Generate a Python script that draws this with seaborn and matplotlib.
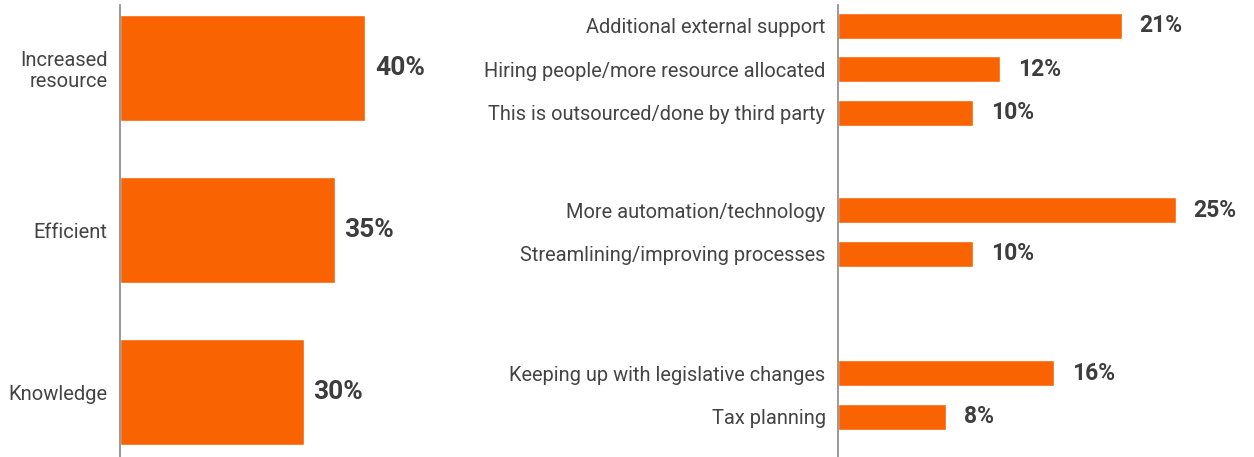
import matplotlib
matplotlib.use("Agg")
import matplotlib.pyplot as plt
import seaborn as sns
import pandas as pd
import numpy as np

# ---- data ----
left_categories = ["Increased\nresource", "Efficient", "Knowledge"]
left_values = [40, 35, 30]

right_groups = [0, 0, 0, 1, 1, 2, 2]
right_categories = [
    "Additional external support",
    "Hiring people/more resource allocated",
    "This is outsourced/done by third party",
    "More automation/technology",
    "Streamlining/improving processes",
    "Keeping up with legislative changes",
    "Tax planning",
]
right_values = [21, 12, 10, 25, 10, 16, 8]

ORANGE = "#F96302"
TEXT = "#444444"
VALUE_TEXT = "#3d3d3d"

sns.set_style("white")
plt.rcParams["font.family"] = ["Roboto", "DejaVu Sans"]

W, H = 1254, 457
fig = plt.figure(figsize=(W / 100, H / 100), dpi=100)

# ---- left panel ----
axL = fig.add_axes([120 / W, 0, 360 / W, 452 / H])
dfL = pd.DataFrame({"cat": left_categories, "val": left_values})
sns.barplot(data=dfL, x="val", y="cat", orient="y", color=ORANGE,
            width=0.654, saturation=1, ax=axL)
axL.set_xlim(0, 360 / 6.13)
axL.set_ylim(2.401, -0.389)
axL.set_xlabel("")
axL.set_ylabel("")
axL.set_xticks([])
axL.tick_params(axis="y", length=0, pad=9, labelsize=14.5, labelcolor=TEXT)
for lab in axL.get_yticklabels():
    lab.set_horizontalalignment("right")
    lab.set_multialignment("right")
    lab.set_linespacing(1.1)
for s in ["top", "right", "bottom"]:
    axL.spines[s].set_visible(False)
axL.spines["left"].set_color("#888888")
axL.spines["left"].set_linewidth(1.2)
for c in axL.containers:
    axL.bar_label(c, labels=[f"{v}%" for v in left_values], padding=7,
                  fontsize=19, fontweight="bold", color=VALUE_TEXT)

# ---- right panel ----
spacing = 43.5 / 163.0
positions = []
for g in sorted(set(right_groups)):
    idx = [i for i, gg in enumerate(right_groups) if gg == g]
    n = len(idx)
    for j, i in enumerate(idx):
        positions.append((g, i, g + (j - (n - 1) / 2) * spacing))
positions.sort(key=lambda t: t[1])
ypos = [p[2] for p in positions]

axR = fig.add_axes([838 / W, 0, 416 / W, 452 / H])
dfR = pd.DataFrame({"pos": ypos, "val": right_values})
sns.barplot(data=dfR, x="val", y="pos", orient="y", native_scale=True,
            color=ORANGE, width=26 / 43.5, saturation=1, ax=axR)
axR.set_xlim(0, 416 / 13.5)
axR.set_ylim(2.380, -0.393)
axR.set_yticks(ypos)
axR.set_yticklabels(right_categories)
axR.set_xlabel("")
axR.set_ylabel("")
axR.set_xticks([])
axR.tick_params(axis="y", length=0, pad=9, labelsize=14.4, labelcolor=TEXT)
for s in ["top", "right", "bottom"]:
    axR.spines[s].set_visible(False)
axR.spines["left"].set_color("#888888")
axR.spines["left"].set_linewidth(1.2)
for c in axR.containers:
    vals = [r.get_width() for r in c]
    axR.bar_label(c, labels=[f"{int(round(v))}%" for v in vals], padding=13,
                  fontsize=16.5, fontweight="bold", color=VALUE_TEXT)

fig.savefig("out.png", dpi=100, facecolor="white")
